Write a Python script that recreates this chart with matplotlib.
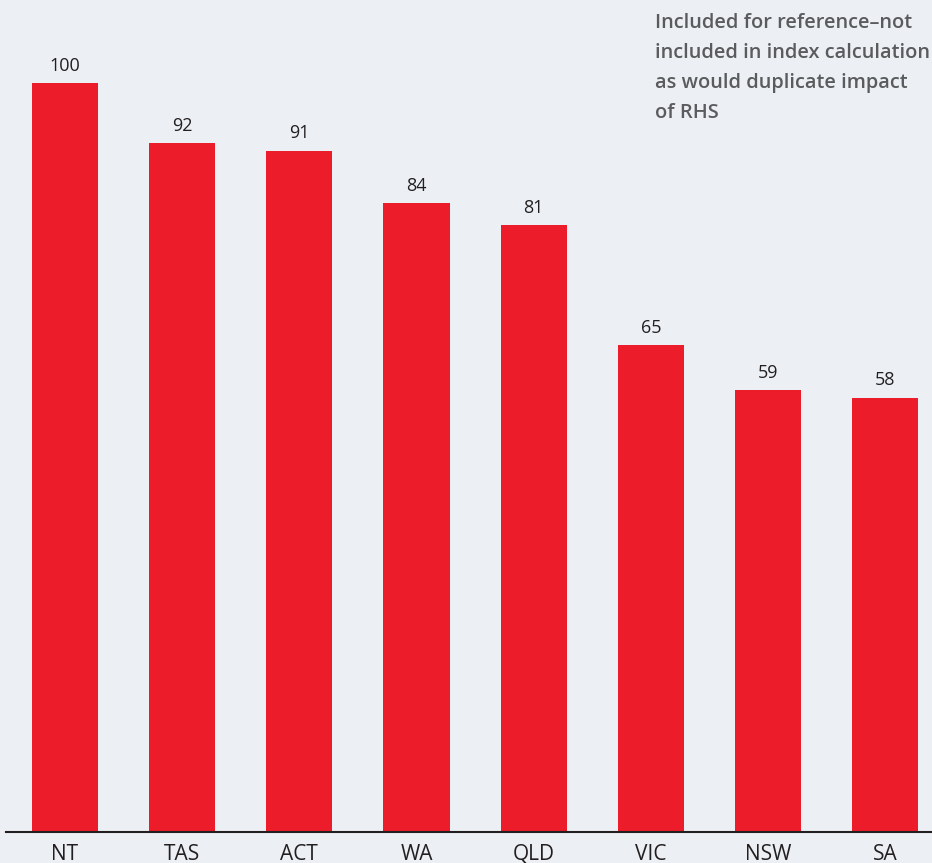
import matplotlib.pyplot as plt
import numpy as np

plt.rcParams['font.family'] = ['Open Sans', 'DejaVu Sans']

states = ["NT", "TAS", "ACT", "WA", "QLD", "VIC", "NSW", "SA"]
values = [100, 92, 91, 84, 81, 65, 59, 58]
note = "Included for reference\u2013not\nincluded in index calculation\nas would duplicate impact\nof RHS"

bg = "#ECF0F4"
red = "#ED1C2A"

fig = plt.figure(figsize=(9.32, 8.63), dpi=100, facecolor=bg)
ax = fig.add_axes([6 / 932, 31 / 863, 926 / 932, 832 / 863], facecolor=bg)

x = np.arange(len(states))
bars = ax.bar(x, values, width=0.564, color=red)
for xi, v in zip(x, values):
    ax.text(xi, v + 1.1, str(v), ha="center", va="bottom", fontsize=13, color="#231F20")

ax.set_xlim(-0.504, 7.40)
ax.set_ylim(0, 111.1)
ax.set_xticks(x)
ax.set_xticklabels(states, fontsize=15, color="#231F20", va="baseline")
ax.tick_params(axis="x", length=0, pad=20)
ax.set_yticks([])
for s in ["top", "right", "left"]:
    ax.spines[s].set_visible(False)
ax.spines["bottom"].set_color("#231F20")
ax.spines["bottom"].set_linewidth(1.5)

fig.text(655 / 932, 1 - 13 / 863, note, ha="left", va="top", fontsize=14.4,
         fontweight="semibold", color="#5A5B5D", linespacing=1.66)

fig.savefig("out.png", dpi=100, facecolor=bg)
